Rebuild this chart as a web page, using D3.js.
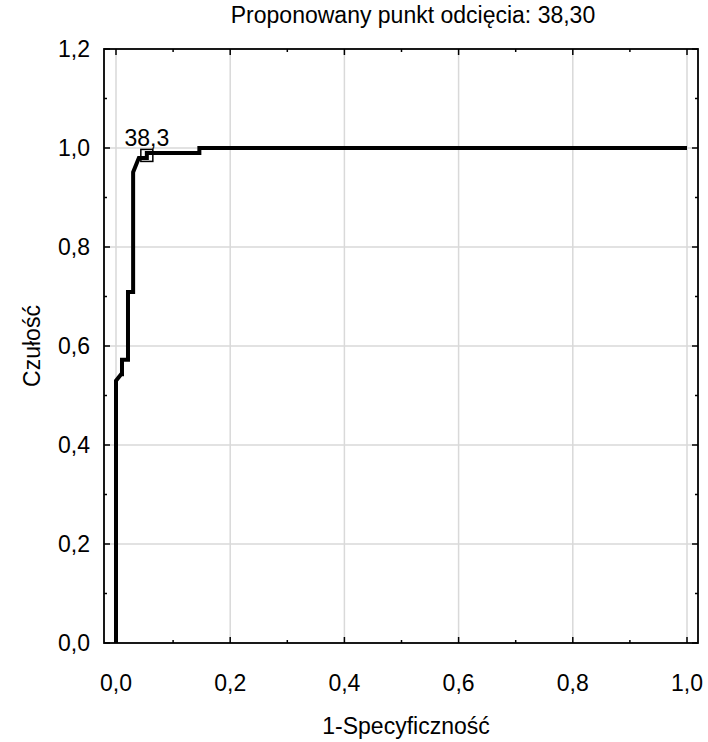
<!DOCTYPE html>
<html>
<head>
<meta charset="utf-8">
<script src="https://cdn.jsdelivr.net/npm/d3@7"></script>
<style>
  html, body { margin: 0; padding: 0; background: #fff; }
  svg { display: block; }
  text { font-family: "Liberation Sans", Arial, sans-serif; fill: #000; }
</style>
</head>
<body>
<svg id="chart" width="708" height="742"></svg>
<script>
// ROC curve points (1-specificity, sensitivity)
const fpr = [0, 0, 0.009, 0.0105, 0.0105, 0.021, 0.021, 0.030, 0.030, 0.040, 0.054, 0.054, 0.146, 0.146, 1.0];
const tpr = [0, 0.530, 0.543, 0.543, 0.572, 0.572, 0.709, 0.709, 0.951, 0.980, 0.980, 0.990, 0.990, 1.0, 1.0];

// Proposed cut-off point
const cutoffValue = "38,3";
const cutoffFpr = 0.054;
const cutoffTpr = 0.985;

const xTicks = [0, 0.2, 0.4, 0.6, 0.8, 1.0];
const yTicks = [0, 0.2, 0.4, 0.6, 0.8, 1.0, 1.2];
const minorX = d3.range(0, 1.0001, 0.1);
const minorY = d3.range(0, 1.2001, 0.1);

const title = "Proponowany punkt odcięcia: 38,30";
const xLabel = "1-Specyficzność";
const yLabel = "Czułość";

const fmt = d => d3.format(".1f")(d).replace(".", ",");
const fontSize = 23;

const frameL = 104, frameR = 698, frameT = 49, frameB = 643;
const x = d3.scaleLinear().domain([0, 1]).range([116, 687]);
const y = d3.scaleLinear().domain([0, 1.2]).range([frameB, frameT]);

const svg = d3.select("#chart");

// grid
const grid = svg.append("g").attr("stroke", "#d9d9d9").attr("stroke-width", 1.5);
grid.selectAll("line.gx").data(xTicks).join("line")
  .attr("x1", d => x(d)).attr("x2", d => x(d)).attr("y1", frameT).attr("y2", frameB);
grid.selectAll("line.gy").data(yTicks.filter(d => d > 0 && d < 1.2)).join("line")
  .attr("x1", frameL).attr("x2", frameR).attr("y1", d => y(d)).attr("y2", d => y(d));

// tick marks pointing inward on all four sides
const ticks = svg.append("g").attr("stroke", "#000").attr("stroke-width", 1.5);
const isMajor = (v, arr) => arr.some(t => Math.abs(t - v) < 1e-6);
minorX.forEach(v => {
  const len = isMajor(v, xTicks) ? 6 : 3;
  ticks.append("line").attr("x1", x(v)).attr("x2", x(v)).attr("y1", frameB).attr("y2", frameB - len);
  ticks.append("line").attr("x1", x(v)).attr("x2", x(v)).attr("y1", frameT).attr("y2", frameT + len);
});
minorY.forEach(v => {
  const len = isMajor(v, yTicks) ? 6 : 3;
  ticks.append("line").attr("x1", frameL).attr("x2", frameL + len).attr("y1", y(v)).attr("y2", y(v));
  ticks.append("line").attr("x1", frameR).attr("x2", frameR - len).attr("y1", y(v)).attr("y2", y(v));
});

// frame
svg.append("rect").attr("x", frameL).attr("y", frameT)
  .attr("width", frameR - frameL).attr("height", frameB - frameT)
  .attr("fill", "none").attr("stroke", "#000").attr("stroke-width", 1.8);

// tick labels
svg.append("g").selectAll("text").data(xTicks).join("text")
  .attr("x", d => x(d)).attr("y", 691)
  .attr("text-anchor", "middle").attr("font-size", fontSize)
  .text(fmt);
svg.append("g").selectAll("text").data(yTicks).join("text")
  .attr("x", 90).attr("y", d => y(d) + 8)
  .attr("text-anchor", "end").attr("font-size", fontSize)
  .text(fmt);

// ROC curve
const pts = fpr.map((f, i) => [f, tpr[i]]);
svg.append("path")
  .datum(pts)
  .attr("fill", "none").attr("stroke", "#000").attr("stroke-width", 4)
  .attr("stroke-linejoin", "miter")
  .attr("d", d3.line().x(d => x(d[0])).y(d => y(d[1])));

// cut-off marker and label
svg.append("rect")
  .attr("x", x(cutoffFpr) - 6).attr("y", y(cutoffTpr) - 6)
  .attr("width", 12).attr("height", 12)
  .attr("fill", "none").attr("stroke", "#000").attr("stroke-width", 1.5);
svg.append("text")
  .attr("x", x(cutoffFpr)).attr("y", y(cutoffTpr) - 9)
  .attr("text-anchor", "middle").attr("font-size", fontSize)
  .text(cutoffValue);

// titles
svg.append("text").attr("x", 413).attr("y", 23)
  .attr("text-anchor", "middle").attr("font-size", fontSize).text(title);
svg.append("text").attr("x", 406).attr("y", 734)
  .attr("text-anchor", "middle").attr("font-size", fontSize).text(xLabel);
svg.append("text")
  .attr("transform", "translate(40,346) rotate(-90)")
  .attr("text-anchor", "middle").attr("font-size", fontSize).text(yLabel);
</script>
</body>
</html>
